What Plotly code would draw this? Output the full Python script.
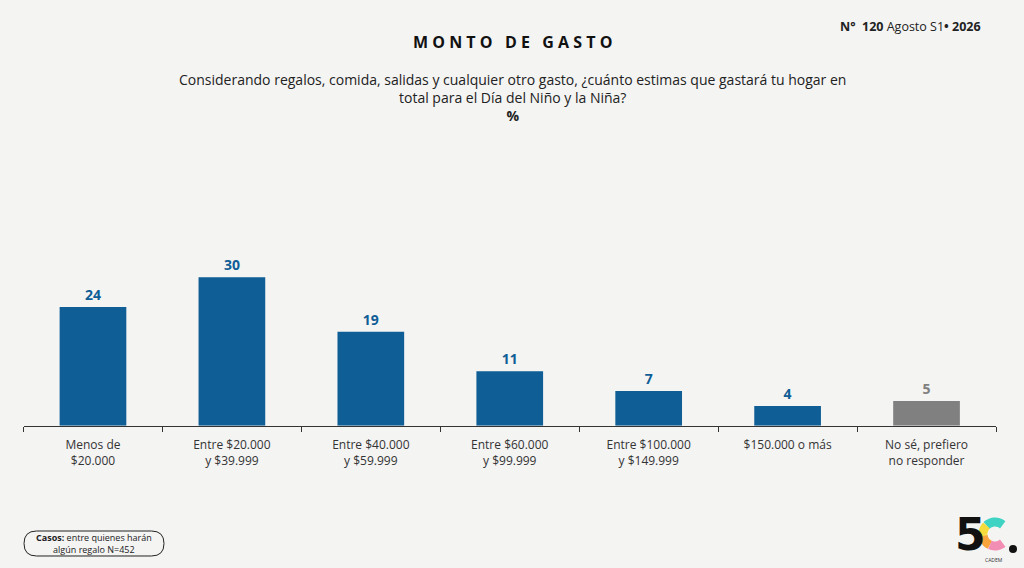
import numpy as np
import plotly.graph_objects as go

# datos
categorias = ["Menos de<br>$20.000", "Entre $20.000<br>y $39.999", "Entre $40.000<br>y $59.999",
              "Entre $60.000<br>y $99.999", "Entre $100.000<br>y $149.999", "$150.000 o más",
              "No sé, prefiero<br>no responder"]
valores = [24, 30, 19, 11, 7, 4, 5]
colores = ["#0f5e96"] * 6 + ["#808080"]

W, H = 1024, 568
BG = "#f4f4f3"
FONT = "Open Sans"


def px(x, y):
    # pixel -> paper
    return x / W, 1 - y / H


fig = go.Figure()
fig.add_trace(go.Bar(
    x=categorias, y=valores, width=0.48,
    marker=dict(color=colores, line=dict(width=0)),
    text=[f"<b>{v}</b>" for v in valores], textposition="outside",
    textfont=dict(color=colores, size=14, family=FONT),
    cliponaxis=False, hoverinfo="skip",
))

fig.update_xaxes(
    domain=[23.5 / W, 996 / W], showline=True, linecolor="#333333", linewidth=1,
    ticks="outside", tickson="boundaries", ticklen=5, tickcolor="#333333",
    ticklabelstandoff=8,
    tickfont=dict(size=12, color="#333333", family=FONT), showgrid=False,
)
y0 = 1 - 425.7 / H
fig.update_yaxes(domain=[y0, y0 + 198 / H], range=[0, 40], visible=False)

anns = [
    dict(text="<b>M O N T O   D E   G A S T O</b>", x=0.5, y=px(0, 42)[1], size=16, color="#111111"),
    dict(text="Considerando regalos, comida, salidas y cualquier otro gasto, ¿cuánto estimas que gastará tu hogar en<br>"
              "total para el Día del Niño y la Niña?<br><b>%</b>",
         x=512 / W, y=px(0, 97)[1], size=14, color="#222222"),
    dict(text="<b>N°  120</b> Agosto S1<b>• 2026</b>", x=983 / W, y=px(0, 27)[1], size=12.5,
         color="#222222", xanchor="right"),
    dict(text="<b>Casos:</b> entre quienes harán<br>algún regalo N=452", x=94 / W, y=px(0, 543)[1],
         size=9, color="#222222"),
    dict(text="<b>5</b>", x=970 / W, y=px(0, 534)[1], size=44, color="#111111", family="DejaVu Sans"),
    dict(text="CADEM", x=994 / W, y=px(0, 560)[1], size=5, color="#333333"),
]
for a in anns:
    fig.add_annotation(
        text=a["text"], x=a["x"], y=a["y"], xref="paper", yref="paper", showarrow=False,
        xanchor=a.get("xanchor", "center"), yanchor="middle", align="center",
        font=dict(size=a["size"], color=a["color"], family=a.get("family", FONT)),
    )

# caja redondeada de casos
x1, y1, x2, y2, r = 24, 531, 164, 556, 12.5
pts = [("M", x1 + r, y1), ("L", x2 - r, y1), ("Q", x2, y1, x2, y1 + r), ("L", x2, y2 - r),
       ("Q", x2, y2, x2 - r, y2), ("L", x1 + r, y2), ("Q", x1, y2, x1, y2 - r),
       ("L", x1, y1 + r), ("Q", x1, y1, x1 + r, y1)]
path = ""
for p in pts:
    cmd, coords = p[0], p[1:]
    xy = []
    for i in range(0, len(coords), 2):
        xx, yy = px(coords[i], coords[i + 1])
        xy.append(f"{xx:.5f},{yy:.5f}")
    path += cmd + " ".join(xy) + " "
fig.add_shape(type="path", path=path + "Z", xref="paper", yref="paper",
              line=dict(color="#222222", width=1))

# logo: la C de colores
cx, cy, rad = 995, 534, 12
for a0, a1, col in [(50, 135, "#3fd3c4"), (135, 190, "#f5dc3c"), (190, 245, "#f7a43c"), (245, 310, "#f28db3")]:
    ang = np.radians(np.linspace(a0, a1, 12))
    seg = [px(cx + rad * np.cos(t), cy - rad * np.sin(t)) for t in ang]
    d = "M" + " L".join(f"{a:.5f},{b:.5f}" for a, b in seg)
    fig.add_shape(type="path", path=d, xref="paper", yref="paper",
                  line=dict(color=col, width=9))
fig.add_shape(type="circle", xref="paper", yref="paper",
              x0=px(1009, 0)[0], x1=px(1017, 0)[0], y0=px(0, 553)[1], y1=px(0, 545)[1],
              fillcolor="#111111", line=dict(width=0))

fig.update_layout(
    width=W, height=H, margin=dict(l=0, r=0, t=0, b=0),
    paper_bgcolor=BG, plot_bgcolor="rgba(0,0,0,0)", showlegend=False,
    font=dict(family=FONT), bargap=0.52,
)
fig.write_html("out.html", config={"displayModeBar": False},
               post_script="document.body.style.margin='0';")
